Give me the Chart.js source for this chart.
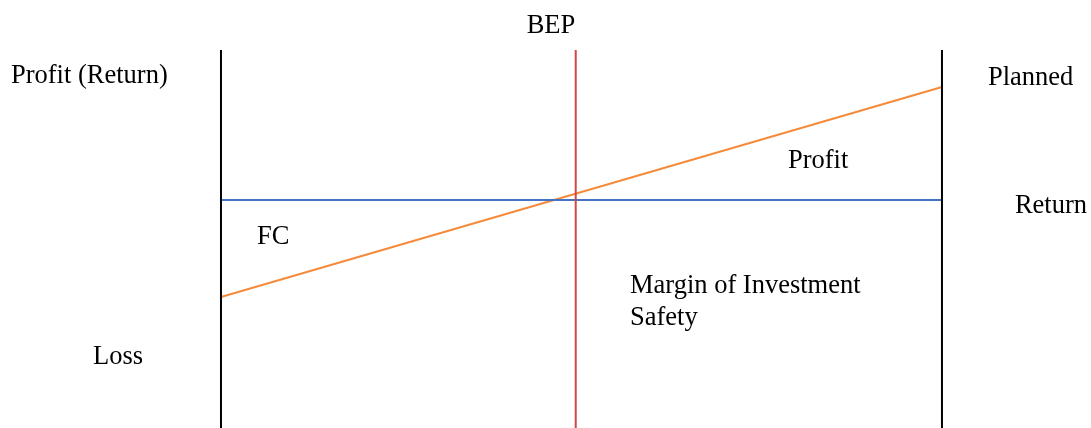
<!DOCTYPE html>
<html>
<head>
<meta charset="utf-8">
<script src="https://cdn.jsdelivr.net/npm/chart.js@4"></script>
<style>
html,body{margin:0;padding:0;background:#fff;}
#wrap{width:1091px;height:428px;}
</style>
</head>
<body>
<div id="wrap"><canvas id="c" width="1091" height="428"></canvas></div>
<script>
// Volume axis: 0 = start, 100 = planned volume
const volumeX = [0, 100];
const bepX = 49.2;
const axisTop = 15;
const axisBottom = -22.8;
// Return (fixed level) and planned profit line
const returnY = [0, 0];
const plannedY = [-9.7, 11.3];
// Text labels
const labelTexts = ["BEP", "Profit (Return)", "Planned", "Profit", "Return", "FC", "Margin of Investment", "Safety", "Loss"];
const labelX = [45.77, -29.13, 106.38, 78.64, 110.12, 4.99, 56.73, 56.73, -17.75];
const labelY = [16.7, 11.7, 11.5, 3.2, -1.3, -4.4, -9.3, -12.5, -16.4];
const labelAlign = ["center", "left", "left", "left", "left", "left", "left", "left", "left"];

const mk = (xs, ys, color) => ({
  data: xs.map((x, i) => ({x, y: ys[i]})),
  showLine: true, borderColor: color, backgroundColor: color,
  borderWidth: 2, pointRadius: 0, pointHoverRadius: 0, tension: 0
});

const textPlugin = {
  id: 'texts',
  afterDatasetsDraw(chart) {
    const {ctx, scales} = chart;
    ctx.save();
    ctx.fillStyle = '#000';
    ctx.font = '26.5px "Liberation Serif", "Times New Roman", serif';
    ctx.textBaseline = 'alphabetic';
    labelTexts.forEach((t, i) => {
      ctx.textAlign = labelAlign[i];
      ctx.fillText(t, scales.x.getPixelForValue(labelX[i]), scales.y.getPixelForValue(labelY[i]));
    });
    ctx.restore();
  }
};

new Chart(document.getElementById('c'), {
  type: 'scatter',
  data: {
    datasets: [
      mk([volumeX[0], volumeX[0]], [axisTop, axisBottom], '#000000'),
      mk([volumeX[1], volumeX[1]], [axisTop, axisBottom], '#000000'),
      mk([bepX, bepX], [axisTop, axisBottom], '#D0474A'),
      mk(volumeX, returnY, '#4472C4'),
      mk(volumeX, plannedY, '#F58B3A')
    ]
  },
  options: {
    responsive: false,
    animation: false,
    events: [],
    layout: {padding: 0},
    plugins: {legend: {display: false}, tooltip: {enabled: false}},
    scales: {
      x: {type: 'linear', display: false, min: -30.65, max: 120.67},
      y: {type: 'linear', display: false, min: -22.8, max: 20}
    }
  },
  plugins: [textPlugin]
});
</script>
</body>
</html>
